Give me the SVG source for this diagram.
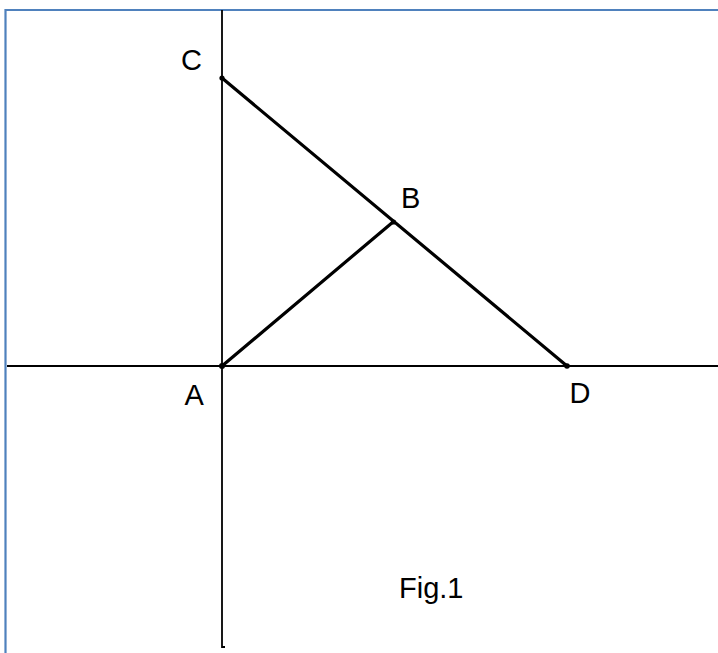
<svg xmlns="http://www.w3.org/2000/svg" width="718" height="653" viewBox="0 0 718 653">
<style>
.lbl{font-family:"Liberation Sans",Arial,sans-serif;font-size:29px;fill:#000}
.axis{stroke:#000;stroke-width:1.8;fill:none}
.seg{stroke:#000;stroke-width:3.2;fill:none;stroke-linecap:round}
.pt{fill:#000}
</style>
<rect width="718" height="653" fill="#fff"/>
<path d="M5.5,653 V10 H718" fill="none" stroke="#4F81BD" stroke-width="2.2"/>
<g id="connectors">
<path class="axis" d="M7,366 H718"/>
<path class="axis" d="M222,10 V647 H225"/>
<line class="seg" x1="222" y1="78" x2="567" y2="366"/>
<line class="seg" x1="222" y1="366" x2="393" y2="222"/>
</g>
<g id="C"><circle class="pt" cx="222" cy="78" r="2.6"/><text class="lbl" x="181" y="69.5">C</text></g>
<g id="B"><circle class="pt" cx="393.5" cy="222" r="2.6"/><text class="lbl" x="401" y="208">B</text></g>
<g id="A"><circle class="pt" cx="222" cy="366" r="3"/><text class="lbl" x="184.5" y="405">A</text></g>
<g id="D"><circle class="pt" cx="567" cy="366" r="2.8"/><text class="lbl" x="569.5" y="403">D</text></g>
<g id="caption"><text class="lbl" x="399" y="598">Fig.1</text></g>
</svg>
